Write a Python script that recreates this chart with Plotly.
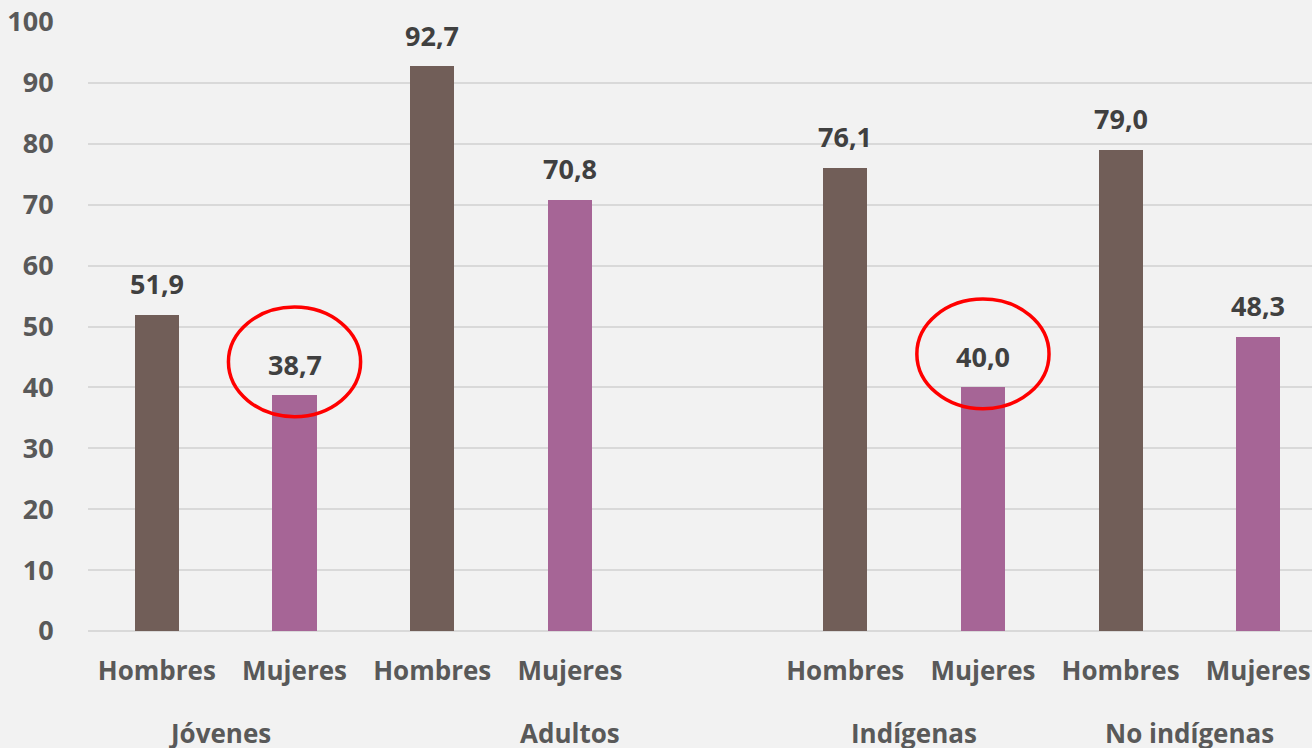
import plotly.graph_objects as go

# categories (blank slot separates the two pairs of groups)
x_pos = [0, 1, 2, 3, 5, 6, 7, 8]
sexo = ["Hombres", "Mujeres", "Hombres", "Mujeres", "Hombres", "Mujeres", "Hombres", "Mujeres"]
valores = [51.9, 38.7, 92.7, 70.8, 76.1, 40.0, 79.0, 48.3]
grupos = ["Jóvenes", "Adultos", "Indígenas", "No indígenas"]
grupos_x = [0.46, 3.0, 5.5, 7.5]
resaltar = [1, 5]  # indices of circled bars

COL_H = "#715e58"
COL_M = "#a66596"
colores = [COL_H if s == "Hombres" else COL_M for s in sexo]
FONT = "Open Sans"

fig = go.Figure()

fig.add_trace(go.Bar(
    x=x_pos, y=valores,
    marker=dict(color=colores, line_width=0),
    width=0.32,
    showlegend=False,
    hoverinfo="skip",
))

# data labels
for x, v in zip(x_pos, valores):
    fig.add_annotation(
        x=x, y=v, xref="x", yref="y",
        text=f"{v:.1f}".replace(".", ","),
        showarrow=False, yanchor="middle", yshift=31,
        font=dict(family=FONT, size=27, color="#404040", weight="bold"),
    )

# group labels
for g, gx in zip(grupos, grupos_x):
    fig.add_annotation(
        x=gx, y=-0.1675, xref="x", yref="paper",
        text=g, showarrow=False, yanchor="middle",
        font=dict(family=FONT, size=26, color="#595959", weight="bold"),
    )

# red circles around highlighted labels
for i in resaltar:
    x, v = x_pos[i], valores[i]
    fig.add_shape(
        type="circle", xref="x", yref="y",
        x0=x - 0.48, x1=x + 0.48, y0=v - 3.5, y1=v + 14.5,
        line=dict(color="#ff0000", width=3.5),
    )

fig.update_layout(
    width=1312, height=748,
    paper_bgcolor="#f2f2f2",
    plot_bgcolor="#f2f2f2",
    margin=dict(l=88, r=0, t=22, b=117),
    font=dict(family=FONT, color="#595959"),
    bargap=0,
)

fig.update_xaxes(
    range=[-0.5, 8.39],
    tickvals=x_pos, ticktext=sexo,
    tickfont=dict(family=FONT, size=26, color="#595959", weight="bold"),
    ticks="outside", ticklen=17, tickcolor="rgba(0,0,0,0)",
    showgrid=False, showline=False, zeroline=False,
)

fig.update_yaxes(
    range=[0, 100], dtick=10,
    tickfont=dict(family=FONT, size=27, color="#595959", weight="bold"),
    ticks="outside", ticklen=28, tickcolor="rgba(0,0,0,0)",
    showgrid=True, gridcolor="#d9d9d9", gridwidth=2,
    zeroline=True, zerolinecolor="#d9d9d9", zerolinewidth=2,
)

fig.write_html("out.html", config={"displayModeBar": False},
               post_script="document.body.style.margin='0';")
